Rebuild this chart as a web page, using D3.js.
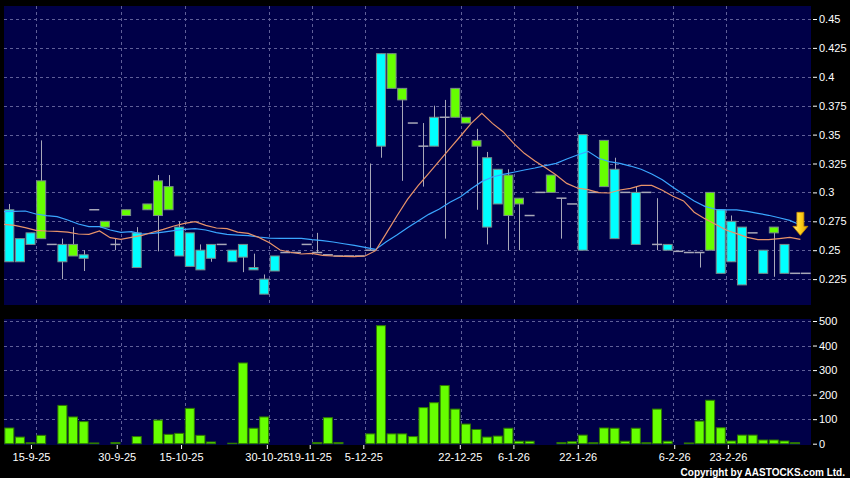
<!DOCTYPE html>
<html><head><meta charset="utf-8">
<script src="https://cdn.jsdelivr.net/npm/d3@7"></script>
<style>body{margin:0;background:#000;}svg{display:block}</style>
</head><body><svg id="c" width="850" height="478"></svg>
<script>
// ---- data (index-based trading days) ----
const open = [.285,.26,.265,.26,.255,.255,.245,.246,.285,.27,
 .255,.28,.265,.285,.28,.285,.27,.265,.25,.255,
 .255,.25,.255,.235,.225,.245,.248,.248,.255,.248,
 .246,.245,.245,.245,.25,.42,.39,.38,.36,.34,
 .365,.365,.365,.36,.34,.33,.32,.28,.29,.28,
 .30,.30,.295,.29,.35,.30,.305,.32,.30,.30,
 .30,.255,.255,.249,.248,.248,.25,.285,.275,.27,
 .265,.25,.265,.255,.23,.23];
const close = [.24,.24,.255,.31,.255,.24,.255,.243,.285,.275,
 .255,.285,.235,.29,.31,.305,.245,.236,.233,.243,
 .255,.24,.244,.233,.212,.232,.248,.248,.255,.248,
 .246,.245,.245,.245,.25,.34,.42,.39,.36,.34,
 .34,.365,.39,.365,.345,.27,.29,.315,.295,.28,
 .30,.315,.295,.29,.25,.30,.345,.26,.30,.255,
 .30,.255,.25,.249,.248,.248,.30,.23,.24,.22,
 .265,.23,.27,.23,.23,.23];
const high = [.29,.26,.265,.345,.255,.26,.27,.25,.285,.275,
 .26,.285,.27,.29,.315,.315,.275,.265,.255,.255,
 .255,.25,.255,.247,.229,.245,.248,.248,.255,.265,
 .246,.245,.245,.245,.325,.42,.42,.39,.36,.36,
 .375,.38,.39,.365,.355,.335,.32,.32,.295,.28,
 .30,.315,.295,.29,.35,.30,.345,.33,.30,.305,
 .30,.295,.255,.249,.248,.248,.30,.285,.28,.27,
 .265,.25,.27,.255,.23,.23];
const low = [.24,.24,.255,.26,.255,.225,.245,.232,.285,.27,
 .25,.28,.235,.285,.249,.285,.245,.236,.233,.24,
 .255,.24,.231,.233,.212,.232,.248,.248,.255,.248,
 .246,.245,.245,.245,.25,.33,.39,.31,.36,.305,
 .34,.26,.365,.36,.285,.255,.29,.25,.25,.28,
 .30,.30,.26,.29,.25,.30,.305,.26,.30,.255,
 .30,.25,.25,.249,.248,.235,.25,.23,.24,.22,
 .265,.23,.227,.23,.23,.23];
const volume = [64,27,4,34,0,156,109,90,3,0,
 5,0,29,0,96,38,42,144,34,7,
 0,2,329,63,109,0,0,0,0,5,
 106,5,0,0,40,481,40,40,29,147,
 167,237,141,80,58,27,31,63,10,10,
 0,0,5,8,35,4,64,63,10,63,
 4,141,10,0,3,92,177,65,11,35,
 35,15,15,11,4,0];
// moving averages, read at day boundaries (point j sits between day j-1 and day j)
const ma10 = [.2724,.2715,.2695,.2672,.2666,.2663,.2657,.264,.2637,.2666,
 .2608,.2594,.2611,.2628,.2655,.268,.2709,.2732,.2747,.2715,
 .2692,.2686,.2657,.2646,.2611,.2565,.2502,.2482,.2467,.2473,
 .2456,.245,.2447,.2444,.245,.2496,.2646,.2796,.294,.3058,
 .3165,.3272,.3381,.3488,.3597,.3684,.3597,.3525,.3424,.3338,
 .3272,.3214,.3151,.3078,.3038,.3024,.2998,.2995,.3021,.3035,
 .3061,.3061,.3018,.2966,.2926,.2828,.2773,.2724,.2675,.2643,
 .2611,.2591,.2591,.26,.2611,.2594];
const ma20 = [.2833,.2836,.2839,.2813,.2799,.279,.2761,.2727,.2704,.2704,
 .2675,.2655,.266,.264,.2646,.2657,.2669,.268,.2686,.2675,
 .2652,.2637,.2631,.2626,.2614,.2605,.2603,.2603,.2603,.2591,
 .2582,.2571,.2556,.2542,.2525,.2507,.2574,.2631,.2695,.2753,
 .281,.2856,.2914,.2963,.3032,.3093,.3133,.3156,.3174,.3194,
 .3211,.3231,.3251,.3289,.3324,.3355,.3295,.3266,.3251,.3228,
 .32,.3159,.311,.3044,.2983,.2926,.2879,.2854,.2848,.2848,
 .2836,.2819,.2802,.2781,.2758,.2718];
const priceTicks = [0.225,0.25,0.275,0.3,0.325,0.35,0.375,0.4,0.425,0.45];
const volTicks = [0,100,200,300,400,500];
const dateLabels = ["15-9-25","30-9-25","15-10-25","30-10-25","19-11-25","5-12-25","22-12-25","6-1-26","22-1-26","6-2-26","23-2-26"];
const dateBoundary = [3,11,17,25,29,34,43,48,54,63,68];

// ---- layout ----
const N = open.length;
const svg = d3.select("#c");
const font = "'Liberation Sans', Arial, sans-serif";
const navy = "#000048";
const gridCol = "#5f5f98";
svg.append("rect").attr("width",850).attr("height",478).attr("fill","#000");

const x = d3.scaleLinear().domain([-0.5, N-0.5]).range([4, 811]);
const xAxisScale = d3.scaleLinear().domain([-0.5, N-0.5]).range([-1.2, 813.6]);
const y = d3.scaleLinear().domain([0.225, 0.45]).range([279.1, 19]);
const yv = d3.scaleLinear().domain([0, 500]).range([443.7, 321]);

const mainTop = 6, mainBot = 305, volTop = 319, volBot = 445;
svg.append("rect").attr("x",4).attr("y",mainTop).attr("width",807).attr("height",mainBot-mainTop).attr("fill",navy);
svg.append("rect").attr("x",4).attr("y",volTop).attr("width",807).attr("height",volBot-volTop).attr("fill",navy);

const defs = svg.append("defs");
defs.append("clipPath").attr("id","clipMain").append("rect").attr("x",4).attr("y",mainTop).attr("width",807).attr("height",mainBot-mainTop);
const grad = defs.append("linearGradient").attr("id","arrowGrad").attr("x1",0).attr("x2",1).attr("y1",0).attr("y2",0);
grad.append("stop").attr("offset","0%").attr("stop-color","#ffe680");
grad.append("stop").attr("offset","50%").attr("stop-color","#ffd21a");
grad.append("stop").attr("offset","100%").attr("stop-color","#e0a000");

// grid
const g = svg.append("g");
g.selectAll("line.hp").data(priceTicks).join("line")
  .attr("x1",4).attr("x2",811).attr("y1",d=>Math.round(y(d))+0.5).attr("y2",d=>Math.round(y(d))+0.5)
  .attr("stroke",gridCol).attr("stroke-dasharray","3,3");
g.selectAll("line.hv").data(volTicks.filter(d=>d>0)).join("line")
  .attr("x1",4).attr("x2",811).attr("y1",d=>Math.round(yv(d))+0.5).attr("y2",d=>Math.round(yv(d))+0.5)
  .attr("stroke",gridCol).attr("stroke-dasharray","3,3");
g.selectAll("line.vm").data(dateBoundary).join("line")
  .attr("x1",d=>Math.round(x(d-0.5))+0.5).attr("x2",d=>Math.round(x(d-0.5))+0.5)
  .attr("y1",mainTop).attr("y2",mainBot).attr("stroke",gridCol).attr("stroke-dasharray","3,3");
svg.append("g").selectAll("line").data(dateBoundary).join("line")
  .attr("x1",d=>Math.round(x(d-0.5))+0.5).attr("x2",d=>Math.round(x(d-0.5))+0.5)
  .attr("y1",volTop).attr("y2",volBot).attr("stroke",gridCol).attr("stroke-dasharray","3,3");

// candles
const idx = d3.range(N);
const cg = svg.append("g").attr("clip-path","url(#clipMain)");
const bw = 9;
cg.selectAll("line.wick").data(idx.filter(i=>high[i]>low[i])).join("line")
  .attr("x1",i=>Math.round(x(i))+0.5).attr("x2",i=>Math.round(x(i))+0.5)
  .attr("y1",i=>y(high[i])).attr("y2",i=>y(low[i]))
  .attr("stroke","#a8a8b8").attr("stroke-width",1);
cg.selectAll("line.doji").data(idx.filter(i=>open[i]===close[i])).join("line")
  .attr("x1",i=>x(i)-5).attr("x2",i=>x(i)+5)
  .attr("y1",i=>y(close[i])).attr("y2",i=>y(close[i]))
  .attr("stroke","#a8a8b8").attr("stroke-width",1.5);
cg.selectAll("rect.body").data(idx.filter(i=>open[i]!==close[i])).join("rect")
  .attr("x",i=>x(i)-bw/2).attr("width",bw)
  .attr("y",i=>y(Math.max(open[i],close[i])))
  .attr("height",i=>Math.abs(y(open[i])-y(close[i])))
  .attr("fill",i=>close[i]>open[i]?"#66ff00":"#00ffff")
  .attr("stroke","#7a8a8a").attr("stroke-width",1);

// moving averages
const line = d3.line().x((d,j)=>x(j-0.5)).y(d=>y(d));
cg.append("path").datum(ma20).attr("d",line).attr("fill","none").attr("stroke","#3aa6ff").attr("stroke-width",1.2);
cg.append("path").datum(ma10).attr("d",line).attr("fill","none").attr("stroke","#e8936a").attr("stroke-width",1.2);

// arrow on last day
const ax = x(N-1.5), ay = y(ma10[N-1]) - 4;
svg.append("path")
  .attr("d","M-3.5,-23 L3.5,-23 L3.5,-9 L7.5,-9 L0,0 L-7.5,-9 L-3.5,-9 Z")
  .attr("transform",`translate(${ax},${ay})`)
  .attr("fill","url(#arrowGrad)").attr("stroke","#c88a00").attr("stroke-width",0.8);

// volume bars
svg.append("g").selectAll("rect").data(idx.filter(i=>volume[i]>0)).join("rect")
  .attr("x",i=>x(i)-4.5).attr("width",9)
  .attr("y",i=>yv(volume[i])).attr("height",i=>yv(0)-yv(volume[i]))
  .attr("fill","#66ff00").attr("stroke","#2f7a00").attr("stroke-width",1);

// axes
function styleAxis(sel){
  sel.select(".domain").remove();
  sel.selectAll("line").attr("stroke","#fff");
  sel.selectAll("text").attr("fill","#fff").style("font-family",font).style("font-size","11px");
}
svg.append("g").attr("transform","translate(813,0)")
  .call(d3.axisRight(y).tickValues(priceTicks).tickSize(4).tickPadding(2).tickFormat(d=>String(+d.toFixed(3))))
  .call(styleAxis);
svg.append("g").attr("transform","translate(813,0)")
  .call(d3.axisRight(yv).tickValues(volTicks).tickSize(4).tickPadding(2).tickFormat(d=>String(d)))
  .call(styleAxis);
svg.append("g").attr("transform",`translate(0,${volBot})`)
  .call(d3.axisBottom(xAxisScale).tickValues(dateBoundary.map(d=>d-0.5)).tickSize(4).tickPadding(4)
    .tickFormat((d,i)=>dateLabels[i]))
  .call(styleAxis);

svg.append("text").attr("x",845).attr("y",476).attr("text-anchor","end")
  .attr("fill","#fff").style("font-family",font).style("font-size","10px").style("font-weight","bold")
  .text("Copyright by AASTOCKS.com Ltd.");
</script></body></html>
